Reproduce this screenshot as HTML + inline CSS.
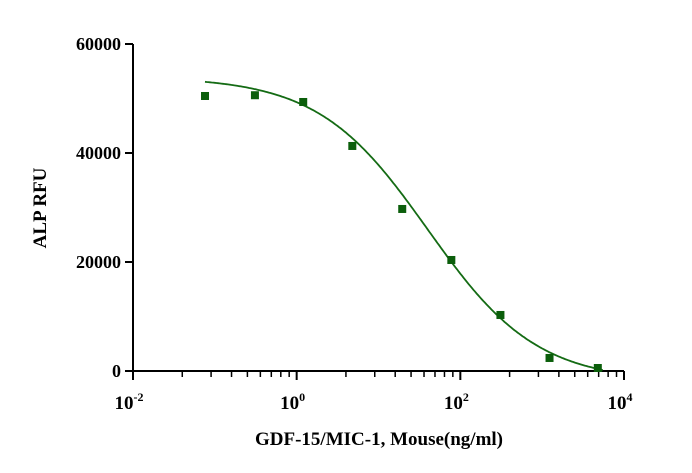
<!DOCTYPE html>
<html><head><meta charset="utf-8"><style>
html,body{margin:0;padding:0;background:#fff;}
svg{display:block;font-family:"Liberation Serif",serif;font-weight:bold;}
</style></head><body>
<svg id="chart" width="692" height="473" viewBox="0 0 692 473" xmlns="http://www.w3.org/2000/svg">
<g id="axes"></g>
<g id="marks"></g>
<text x="0" y="0" transform="translate(46,208) rotate(-90)" text-anchor="middle" font-size="19">ALP RFU</text>
<text x="379" y="445" text-anchor="middle" font-size="19">GDF-15/MIC-1, Mouse(ng/ml)</text>
</svg>
<script>
const logConc = [-1.12, -0.51, 0.08, 0.68, 1.29, 1.89, 2.49, 3.09, 3.68];
const rfu = [50460, 50600, 49360, 41290, 29730, 20370, 10280, 2390, 550];
const yTicks = [0, 20000, 40000, 60000];
const xTickExp = [-2, 0, 2, 4];
const fitTop = 54000, fitBottom = -2000, fitLogEC50 = 1.6, fitHill = 0.65;

const NS = "http://www.w3.org/2000/svg";
const X0 = 133, X1 = 624, Y0 = 371, Y1 = 44;
const xs = l => X0 + (l - (-2)) / 6 * (X1 - X0);
const ys = v => Y0 - v / 60000 * (Y0 - Y1);
function mk(tag, attrs, parent){const e=document.createElementNS(NS,tag);for(const k in attrs)e.setAttribute(k,attrs[k]);parent.appendChild(e);return e;}
const axes = document.getElementById('axes'), marks = document.getElementById('marks');

let a = mk('line',{x1:X0,y1:Y1,x2:X0,y2:Y0,stroke:'#000','stroke-width':2},axes);


a = mk('line',{x1:X0,y1:Y0,x2:X1,y2:Y0,stroke:'#000','stroke-width':2},axes);



yTicks.forEach(v=>{
  const t = mk('line',{x1:X0-8,y1:ys(v),x2:X0,y2:ys(v),stroke:'#000','stroke-width':2},axes);
  
  
  const l = mk('text',{x:X0-12,y:ys(v)+6,'text-anchor':'end','font-size':18},axes);
  l.textContent = v;
  
  
});
xTickExp.forEach((e,i)=>{
  const x = xs(e);
  const t = mk('line',{x1:x,y1:Y0,x2:x,y2:Y0+9,stroke:'#000','stroke-width':2},axes);
  
  
  const l = mk('text',{x:x-4,y:Y0+38,'text-anchor':'middle','font-size':19},axes);
  l.innerHTML = '10<tspan font-size="12" dy="-8">'+e+'</tspan>';
  
  
  if(i < xTickExp.length-1){
    const span = xs(xTickExp[i+1]) - x;
    for(let k=2;k<=9;k++){
      const mx = x + Math.log10(k)*span;
      const m = mk('line',{x1:mx,y1:Y0,x2:mx,y2:Y0+6,stroke:'#000','stroke-width':1.5},axes);
      
      
    }
  }
});

let d = '';
for(let l = logConc[0]; l <= 3.75; l += 0.02){
  const v = Math.max(0, fitBottom + (fitTop - fitBottom)/(1 + Math.pow(10, fitHill*(l - fitLogEC50))));
  d += (d ? 'L' : 'M') + xs(l).toFixed(1) + ',' + ys(v).toFixed(1);
}
const c = mk('path',{d:d,fill:'none',stroke:'#146b14','stroke-width':1.8},marks);


logConc.forEach((l,i)=>{
  const p = mk('rect',{x:xs(l)-4,y:ys(rfu[i])-4,width:8,height:8,fill:'#0b5e0b'},marks);
  
  
});
</script>
</body></html>
